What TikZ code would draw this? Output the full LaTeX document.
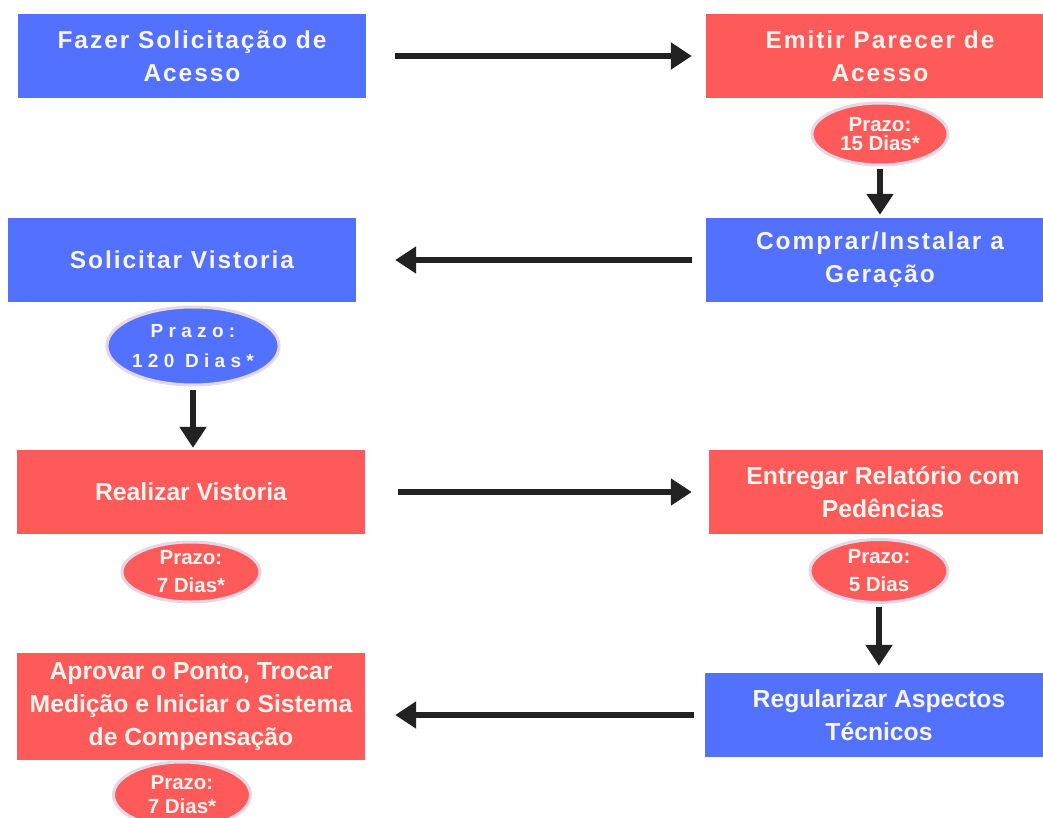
\documentclass[tikz,border=0pt]{standalone}
\usepackage{fontspec}
\setmainfont{Liberation Sans}
\newfontfamily\bxn{Liberation Sans}
\newfontfamily\bxs{Liberation Sans}[LetterSpace=8]
\newfontfamily\bxw{Liberation Sans}[LetterSpace=28]
\usetikzlibrary{shapes.geometric,arrows.meta}
\definecolor{cblue}{HTML}{5271FF}
\definecolor{cred}{HTML}{FF5A5A}
\definecolor{ctxt}{HTML}{F8F4EE}
\definecolor{cring}{HTML}{E6D6E6}
\definecolor{carrow}{HTML}{222222}
\tikzset{
  stepbox/.style={rectangle, inner sep=0pt, minimum width=348pt, minimum height=84pt,
    text=ctxt, align=center, font=\bxn\bfseries\fontsize{24.7}{33}\selectfont},
  spaced/.style={font=\bxs\bfseries\fontsize{24.5}{33}\selectfont},
  bluebox/.style={stepbox, fill=cblue},
  redbox/.style={stepbox, fill=cred},
  prazo/.style={ellipse, inner sep=0pt, draw=cring, line width=3pt, text=ctxt, align=center,
    font=\bxn\bfseries\fontsize{20.5}{28}\selectfont},
  flow/.style={draw=carrow, line width=6pt, -{Triangle[width=26pt,length=21pt]}}
}
\begin{document}
\begin{tikzpicture}[x=1pt,y=-1pt]
\useasboundingbox (0,0) rectangle (1043,818);
\clip (0,0) rectangle (1043,818);
% boxes
\node[bluebox, spaced] (b1) at (192,56) {Fazer Solicitação de\\Acesso};
\node[redbox, spaced] (b2) at (880,56) {Emitir Parecer de\\Acesso};
\node[prazo, fill=cred, minimum width=136pt, minimum height=62pt,
      font=\bxn\bfseries\fontsize{20.5}{19.5}\selectfont] (e1) at (880,134) {Prazo:\\15 Dias*};
\node[bluebox, spaced] (b3) at (880,260) {Comprar/Instalar a\\Geração};
\node[bluebox, spaced] (b4) at (182,260) {Solicitar Vistoria};
\node[prazo, fill=cblue, minimum width=170pt, minimum height=78pt,
      font=\bxw\bfseries\fontsize{19}{30}\selectfont] (e2) at (193,346) {Prazo:\\120 Dias*};
\node[redbox] (b5) at (191,492) {Realizar Vistoria};
\node[prazo, fill=cred, minimum width=138pt, minimum height=60pt] (e3) at (191,572) {Prazo:\\7 Dias*};
\node[redbox] (b6) at (883,492) {Entregar Relatório com\\Pedências};
\node[prazo, fill=cred, minimum width=138pt, minimum height=63pt] (e4) at (879,571) {Prazo:\\5 Dias};
\node[bluebox] (b7) at (879,715) {Regularizar Aspectos\\Técnicos};
\node[redbox, minimum height=107pt] (b8) at (191,706.5) {Aprovar o Ponto, Trocar\\Medição e Iniciar o Sistema\\de Compensação};
\node[prazo, fill=cred, minimum width=137pt, minimum height=66pt,
      font=\bxn\bfseries\fontsize{20.5}{25}\selectfont] (e5) at (182,795) {Prazo:\\[-1pt]7 Dias*};
% connectors
\draw[flow, shorten <=29pt, shorten >=14pt] (b1.east) -- (b1.east -| b2.west);
\draw[flow, shorten <=3pt, shorten >=3pt] (e1.south) -- (e1.south |- b3.north);
\draw[flow, shorten <=14pt, shorten >=39pt] (b3.west) -- (b3.west -| b4.east);
\draw[flow, shorten <=3pt, shorten >=2pt] (e2.south) -- (e2.south |- b5.north);
\draw[flow, shorten <=33pt, shorten >=17pt] (b5.east) -- (b5.east -| b6.west);
\draw[flow, shorten <=3pt, shorten >=7pt] (e4.south) -- (e4.south |- b7.north);
\draw[flow, shorten <=11pt, shorten >=30pt] (b7.west) -- (b7.west -| b8.east);
\end{tikzpicture}
\end{document}
